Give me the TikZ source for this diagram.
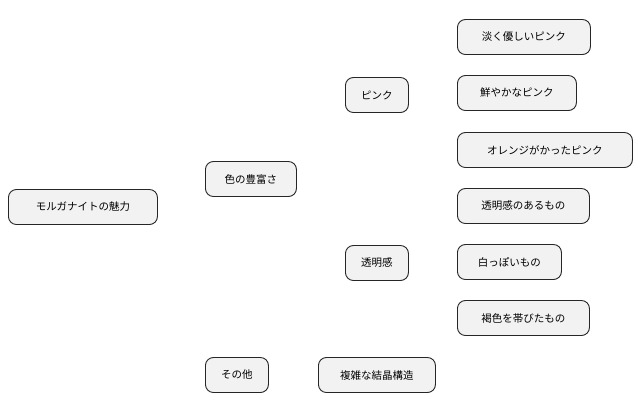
\documentclass[tikz,border=0pt]{standalone}
\usepackage{fontspec}
\setmainfont{Noto Sans CJK JP}
\begin{document}
\begin{tikzpicture}[x=1pt,y=-1pt,
  box/.style={draw=black!85,fill=black!5,rounded corners=8pt,line width=0.9pt,minimum height=35pt,inner xsep=0pt,anchor=west,font=\fontsize{10.5pt}{12pt}\selectfont},
  link/.style={draw=black!80,line width=0.6pt}]
\useasboundingbox (0,0) rectangle (643,416);
\node[box,minimum width=149pt] (r) at (8,207) {モルガナイトの魅力};
\node[box,minimum width=91pt] (c) at (205,179) {色の豊富さ};
\node[box,minimum width=63pt] (o) at (205,375) {その他};
\node[box,minimum width=63pt] (p) at (345,95) {ピンク};
\node[box,minimum width=63pt] (t) at (345,263) {透明感};
\node[box,minimum width=117pt] (k) at (318,375) {複雑な結晶構造};
\node[box,minimum width=133pt] (p1) at (457,37) {淡く優しいピンク};
\node[box,minimum width=119pt] (p2) at (457,93) {鮮やかなピンク};
\node[box,minimum width=175pt] (p3) at (457,150) {オレンジがかったピンク};
\node[box,minimum width=132pt] (t1) at (457,206) {透明感のあるもの};
\node[box,minimum width=104pt] (t2) at (457,262) {白っぽいもの};
\node[box,minimum width=132pt] (t3) at (457,318) {褐色を帯びたもの};
\newcommand\lnk[2]{\path[link] (#1.east) -- ++(12,0) .. controls ++(14,0) and ($(#2.west)+(-14,0)$) .. ($(#2.west)+(-0,0)$);}
\end{tikzpicture}
\end{document}
